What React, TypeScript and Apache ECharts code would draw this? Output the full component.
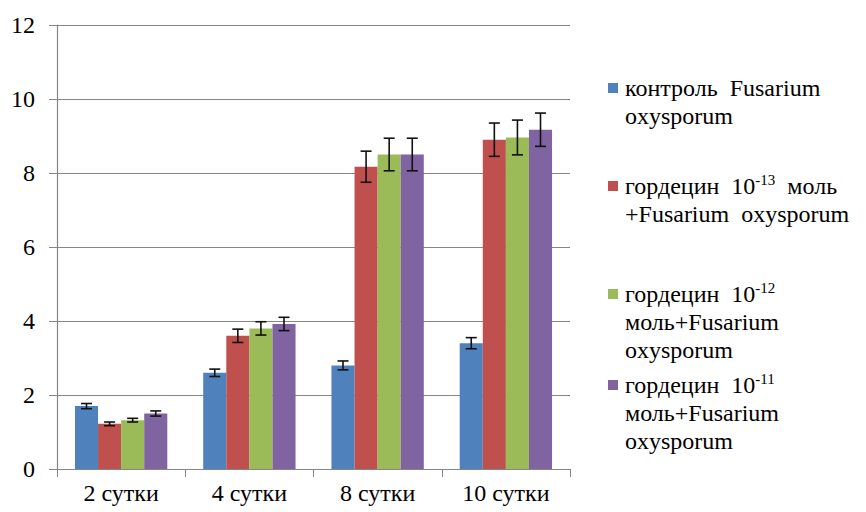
import React, { useEffect, useRef } from "react";
import * as echarts from "echarts";

const categories = ["2 сутки", "4 сутки", "8 сутки", "10 сутки"];
const seriesNames = [
  "контроль Fusarium oxysporum",
  "гордецин 10-13 моль+Fusarium oxysporum",
  "гордецин 10-12 моль+Fusarium oxysporum",
  "гордецин 10-11 моль+Fusarium oxysporum",
];
const legendLabels = [
  "контроль  Fusarium\noxysporum",
  "гордецин  10{sup|-13}  моль\n+Fusarium  oxysporum",
  "гордецин  10{sup|-12}\nмоль+Fusarium\noxysporum",
  "гордецин  10{sup|-11}\nмоль+Fusarium\noxysporum",
];
const legendFirstLineY = [88, 186, 294, 385];
const colors = ["#4F81BD", "#C0504D", "#9BBB59", "#8064A2"];

const controlValues = [1.7, 2.6, 2.8, 3.4];
const h13Values = [1.22, 3.6, 8.17, 8.9];
const h12Values = [1.32, 3.8, 8.5, 8.96];
const h11Values = [1.5, 3.92, 8.5, 9.17];
const controlErr = [0.07, 0.1, 0.12, 0.15];
const h13Err = [0.05, 0.18, 0.42, 0.45];
const h12Err = [0.05, 0.18, 0.44, 0.47];
const h11Err = [0.07, 0.18, 0.44, 0.45];

const yTicks = { min: 0, max: 12, interval: 2 };

const allValues = [controlValues, h13Values, h12Values, h11Values];
const allErr = [controlErr, h13Err, h12Err, h11Err];

const FONT = "Times New Roman";
const LINE_H = 28;
const CAT_GAP = 0.28;

export default function App() {
  const ref = useRef<HTMLDivElement>(null);
  useEffect(() => {
    if (!ref.current) return;
    const chart = echarts.init(ref.current, undefined, { renderer: "svg" });

    const barSeries = allValues.map((vals, i) => ({
      name: seriesNames[i],
      type: "bar",
      data: vals,
      barGap: "0%",
      barCategoryGap: CAT_GAP * 100 + "%",
      itemStyle: { color: colors[i] },
    }));

    const errSeries = allValues.map((vals, i) => ({
      type: "custom",
      name: "err" + i,
      z: 5,
      data: vals.map((v, k) => [k, v, allErr[i][k]]),
      encode: { x: 0, y: 1 },
      renderItem: (params: any, api: any) => {
        const x = api.value(0);
        const v = api.value(1);
        const e = api.value(2);
        const band = api.size([1, 0])[0];
        const bw = (band * (1 - CAT_GAP)) / 4;
        const off = (i - 1.5) * bw;
        const top = api.coord([x, v + e]);
        const bot = api.coord([x, v - e]);
        const cx = top[0] + off;
        const cap = 5.5;
        return {
          type: "group",
          children: [
            { type: "line", shape: { x1: cx, y1: top[1], x2: cx, y2: bot[1] }, style: { stroke: "#111", lineWidth: 1.6 } },
            { type: "line", shape: { x1: cx - cap, y1: top[1], x2: cx + cap, y2: top[1] }, style: { stroke: "#111", lineWidth: 1.6 } },
            { type: "line", shape: { x1: cx - cap, y1: bot[1], x2: cx + cap, y2: bot[1] }, style: { stroke: "#111", lineWidth: 1.6 } },
          ],
        };
      },
    }));

    const legendGraphics: any[] = [];
    seriesNames.forEach((name, i) => {
      const y1 = legendFirstLineY[i];
      legendGraphics.push({
        type: "rect",
        shape: { x: 608, y: y1 - 5, width: 10, height: 10 },
        style: { fill: colors[i] },
      });
      legendGraphics.push({
        type: "text",
        x: 625,
        y: y1 - LINE_H / 2,
        style: {
          text: legendLabels[i],
          fontFamily: FONT,
          fontStyle: "normal",
          fontWeight: "normal",
          fontSize: 24,
          lineHeight: LINE_H,
          fill: "#000",
          verticalAlign: "top",
          align: "left",
          rich: {
            sup: {
              fontFamily: FONT,
              fontStyle: "normal",
              fontWeight: "normal",
              fontSize: 15,
              lineHeight: 14,
              fill: "#000",
              verticalAlign: "top",
            },
          },
        },
      });
    });

    const axisLabel = (margin: number) => ({
      fontFamily: FONT,
      fontStyle: "normal",
      fontWeight: "normal",
      fontSize: 24,
      color: "#000",
      margin,
    });

    chart.setOption({
      animation: false,
      backgroundColor: "#fff",
      textStyle: { fontFamily: FONT, fontStyle: "normal", fontWeight: "normal" },
      grid: { left: 57, right: 296, top: 25, bottom: 43, containLabel: false },
      xAxis: {
        type: "category",
        data: categories,
        axisLine: { lineStyle: { color: "#868686", width: 1.2 } },
        axisTick: { show: true, length: 8, lineStyle: { color: "#868686" } },
        axisLabel: axisLabel(12),
      },
      yAxis: {
        type: "value",
        min: yTicks.min,
        max: yTicks.max,
        interval: yTicks.interval,
        axisLine: { show: true, lineStyle: { color: "#868686", width: 1.2 } },
        axisTick: { show: true, length: 8, lineStyle: { color: "#868686" } },
        splitLine: { show: true, lineStyle: { color: "#868686", width: 1.2 } },
        axisLabel: axisLabel(22),
      },
      graphic: legendGraphics,
      series: [...barSeries, ...errSeries],
    });
    return () => chart.dispose();
  }, []);
  return <div ref={ref} style={{ width: 866, height: 512, position: "absolute", left: 0, top: 0 }} />;
}
